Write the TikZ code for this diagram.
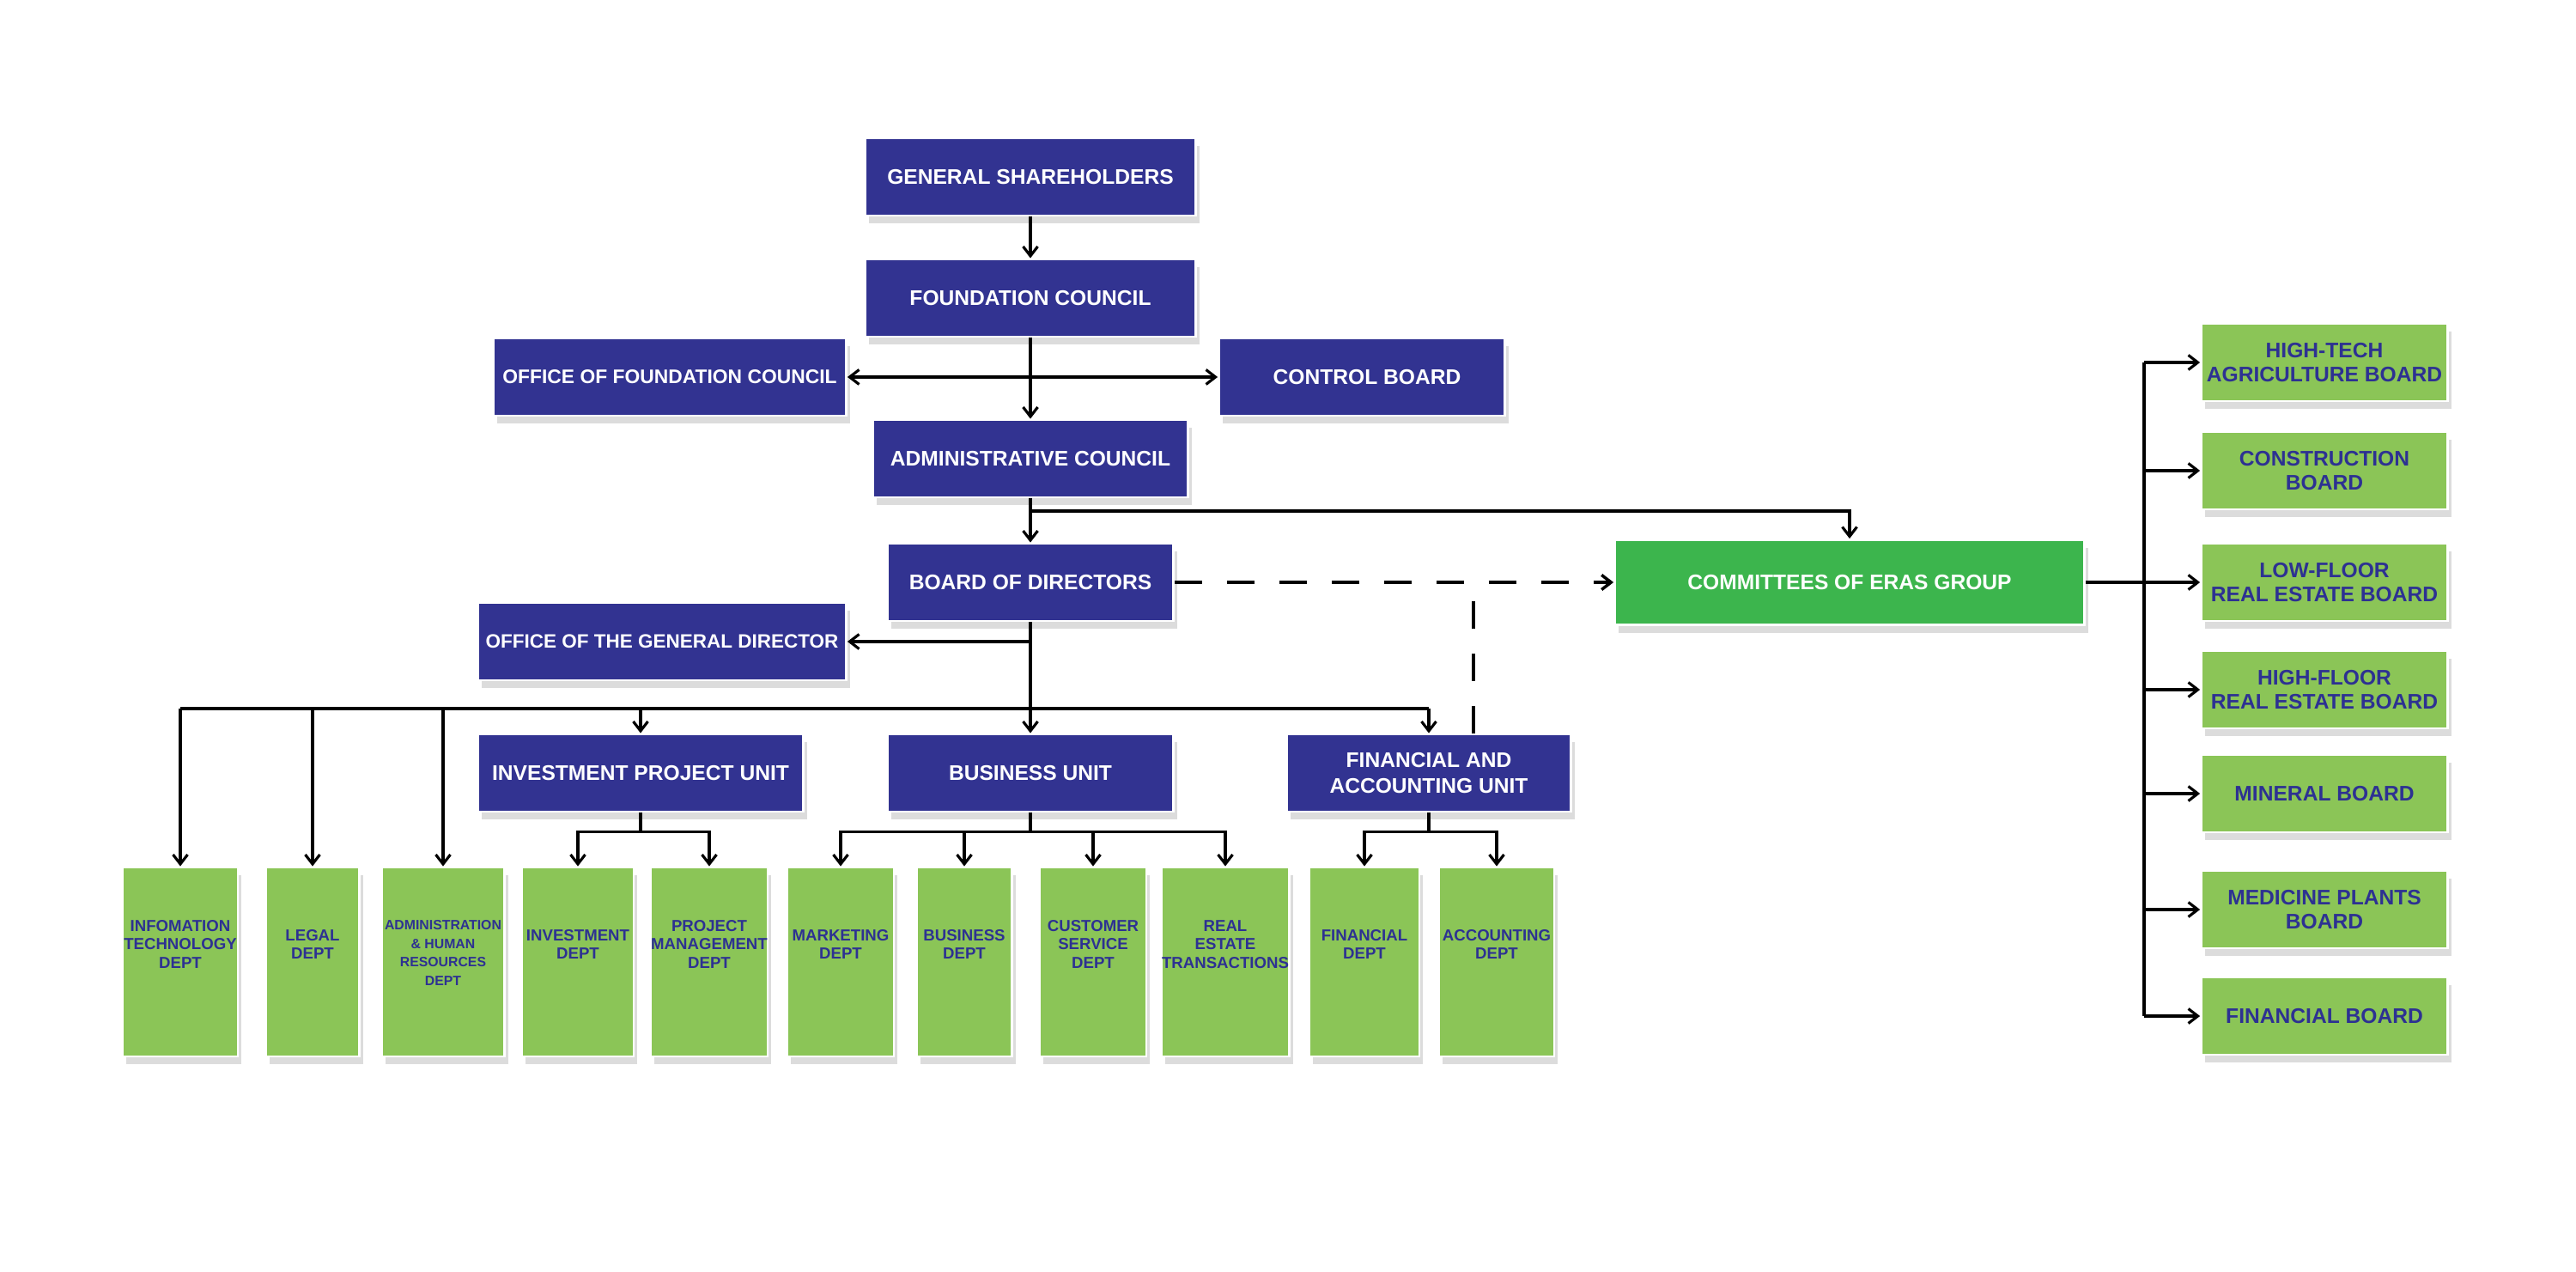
\documentclass[tikz,border=0pt]{standalone}
\usepackage{fontspec}
\setmainfont{Liberation Sans}
\usetikzlibrary{arrows.meta,shadows}

\definecolor{unitblue}{RGB}{50,51,145}
\definecolor{deptgreen}{RGB}{139,197,87}
\definecolor{groupgreen}{RGB}{60,181,77}
\definecolor{deptink}{RGB}{45,49,146}

\newcommand{\depttext}[2][1.4mm]{\raisebox{#1}[0pt][0pt]{\begin{tabular}{@{}c@{}}#2\end{tabular}}}

\begin{document}
\begin{tikzpicture}[
    >={Straight Barb[length=1.1mm,width=1.7mm]},
    box/.style={draw=white, line width=0.8pt, inner sep=0pt, align=center,
      font=\bfseries\fontsize{7}{8.7}\selectfont,
      drop shadow={shadow xshift=0.4mm, shadow yshift=-0.9mm, opacity=0.28}},
    unit/.style={box, fill=unitblue, text=white, minimum height=0.9cm},
    dept/.style={box, fill=deptgreen, text=deptink, minimum height=2.2cm,
      font=\bfseries\fontsize{5.3}{6.2}\selectfont},
    board/.style={box, fill=deptgreen, text=deptink, minimum width=2.87cm,
      minimum height=0.9cm, font=\bfseries\fontsize{7}{7.9}\selectfont},
    line/.style={line width=0.9pt},
    dashline/.style={line width=1pt, dash pattern=on 3.2mm off 2.9mm}
  ]
    \useasboundingbox (0,0) rectangle (30,14.8);

    \node [unit, minimum width=3.85cm] (gs) at (12,12.74) {GENERAL SHAREHOLDERS};
    \node [unit, minimum width=3.85cm] (fc) at (12,11.33) {FOUNDATION COUNCIL};
    \node [unit, minimum width=4.11cm, font=\bfseries\fontsize{6.5}{8}\selectfont]
      (ofc) at (7.80,10.41) {OFFICE OF FOUNDATION COUNCIL};
    \node [unit, minimum width=3.33cm] (cb) at (15.86,10.41) {\hspace{1.2mm}CONTROL BOARD};
    \node [unit, minimum width=3.67cm] (ac) at (12,9.46) {ADMINISTRATIVE COUNCIL};
    \node [unit, minimum width=3.33cm] (bod) at (12,8.02) {BOARD OF DIRECTORS};
    \node [unit, minimum width=4.29cm, font=\bfseries\fontsize{6.4}{8}\selectfont]
      (ogd) at (7.71,7.33) {OFFICE OF THE GENERAL DIRECTOR};
    \node [unit, fill=groupgreen, minimum width=5.47cm, minimum height=0.99cm]
      (ceg) at (21.54,8.02) {COMMITTEES OF ERAS GROUP};
    \node [unit, minimum width=3.79cm] (ipu) at (7.46,5.80) {INVESTMENT PROJECT UNIT};
    \node [unit, minimum width=3.33cm] (bu) at (12,5.80) {BUSINESS UNIT};
    \node [unit, minimum width=3.31cm] (fau) at (16.64,5.80) {FINANCIAL AND\\ACCOUNTING UNIT};

    \node [dept, minimum width=1.34cm] (it) at (2.10,3.60)
      {\depttext{INFOMATION\\TECHNOLOGY\\DEPT}};
    \node [dept, minimum width=1.09cm] (legal) at (3.64,3.60)
      {\depttext{LEGAL\\DEPT}};
    \node [dept, minimum width=1.43cm, font=\bfseries\fontsize{4.5}{6.2}\selectfont]
      (ahr) at (5.16,3.60) {\depttext[0.5mm]{ADMINISTRATION\\\& HUMAN\\RESOURCES\\DEPT}};
    \node [dept, minimum width=1.30cm] (inv) at (6.73,3.60)
      {\depttext{INVESTMENT\\DEPT}};
    \node [dept, minimum width=1.36cm] (pm) at (8.26,3.60)
      {\depttext{PROJECT\\MANAGEMENT\\DEPT}};
    \node [dept, minimum width=1.24cm] (mkt) at (9.79,3.60)
      {\depttext{MARKETING\\DEPT}};
    \node [dept, minimum width=1.11cm] (busd) at (11.23,3.60)
      {\depttext{BUSINESS\\DEPT}};
    \node [dept, minimum width=1.24cm] (cs) at (12.73,3.60)
      {\depttext{CUSTOMER\\SERVICE\\DEPT}};
    \node [dept, minimum width=1.49cm] (re) at (14.27,3.60)
      {\depttext{REAL\\ESTATE\\TRANSACTIONS}};
    \node [dept, minimum width=1.28cm] (fin) at (15.89,3.60)
      {\depttext{FINANCIAL\\DEPT}};
    \node [dept, minimum width=1.34cm] (acc) at (17.43,3.60)
      {\depttext{ACCOUNTING\\DEPT}};

    \node [board] (agri) at (27.07,10.58) {HIGH-TECH\\AGRICULTURE BOARD};
    \node [board] (constr) at (27.07,9.32) {CONSTRUCTION\\BOARD};
    \node [board] (lowf) at (27.07,8.02) {LOW-FLOOR\\REAL ESTATE BOARD};
    \node [board] (highf) at (27.07,6.77) {HIGH-FLOOR\\REAL ESTATE BOARD};
    \node [board] (mineral) at (27.07,5.56) {MINERAL BOARD};
    \node [board] (medic) at (27.07,4.21) {MEDICINE PLANTS\\BOARD};
    \node [board] (finb) at (27.07,2.97) {FINANCIAL BOARD};

    \coordinate (acjoin) at (12,8.85);
    \coordinate (ogdjoin) at (12,7.33);
    \coordinate (bus) at (12,6.55);
    \coordinate (trunk) at (24.97,8.02);

    \draw [line, ->] (gs) -- (fc);
    \draw [line, ->] (fc) -- (ac);
    \draw [line, <->] (ofc) -- (cb);
    \draw [line, ->] (ac) -- (bod);
    \draw [line, ->] (acjoin) -| (ceg.north);
    \draw [line, ->] (ogdjoin) -- (ogd.east);
    \draw [line, ->] (bod) -- (bu);
    \draw [dashline, ->] (bod.east) -- (ceg.west);
    \draw [dashline] ([xshift=5.2mm]fau.north)
      -- ([xshift=5.2mm]fau.north |- bod.east);

    \draw [line] (bus -| it.north) -- (bus -| fau.north);
    \draw [line, ->] (bus -| it.north) -- (it.north);
    \draw [line, ->] (bus -| legal.north) -- (legal.north);
    \draw [line, ->] (bus -| ahr.north) -- (ahr.north);
    \draw [line, ->] (bus -| ipu.north) -- (ipu.north);
    \draw [line, ->] (bus -| fau.north) -- (fau.north);

    \draw [line, ->] (ipu.south) |- ([yshift=4mm]inv.north) -- (inv.north);
    \draw [line, ->] (ipu.south) |- ([yshift=4mm]pm.north) -- (pm.north);
    \draw [line, ->] (bu.south) |- ([yshift=4mm]mkt.north) -- (mkt.north);
    \draw [line, ->] (bu.south) |- ([yshift=4mm]busd.north) -- (busd.north);
    \draw [line, ->] (bu.south) |- ([yshift=4mm]cs.north) -- (cs.north);
    \draw [line, ->] (bu.south) |- ([yshift=4mm]re.north) -- (re.north);
    \draw [line, ->] (fau.south) |- ([yshift=4mm]fin.north) -- (fin.north);
    \draw [line, ->] (fau.south) |- ([yshift=4mm]acc.north) -- (acc.north);

    \draw [line, ->] (ceg.east) -- (lowf.west);
    \draw [line] (trunk |- agri.west) -- (trunk |- finb.west);
    \draw [line, ->] (trunk |- agri.west) -- (agri.west);
    \draw [line, ->] (trunk |- constr.west) -- (constr.west);
    \draw [line, ->] (trunk |- highf.west) -- (highf.west);
    \draw [line, ->] (trunk |- mineral.west) -- (mineral.west);
    \draw [line, ->] (trunk |- medic.west) -- (medic.west);
    \draw [line, ->] (trunk |- finb.west) -- (finb.west);
  \end{tikzpicture}
\end{document}
